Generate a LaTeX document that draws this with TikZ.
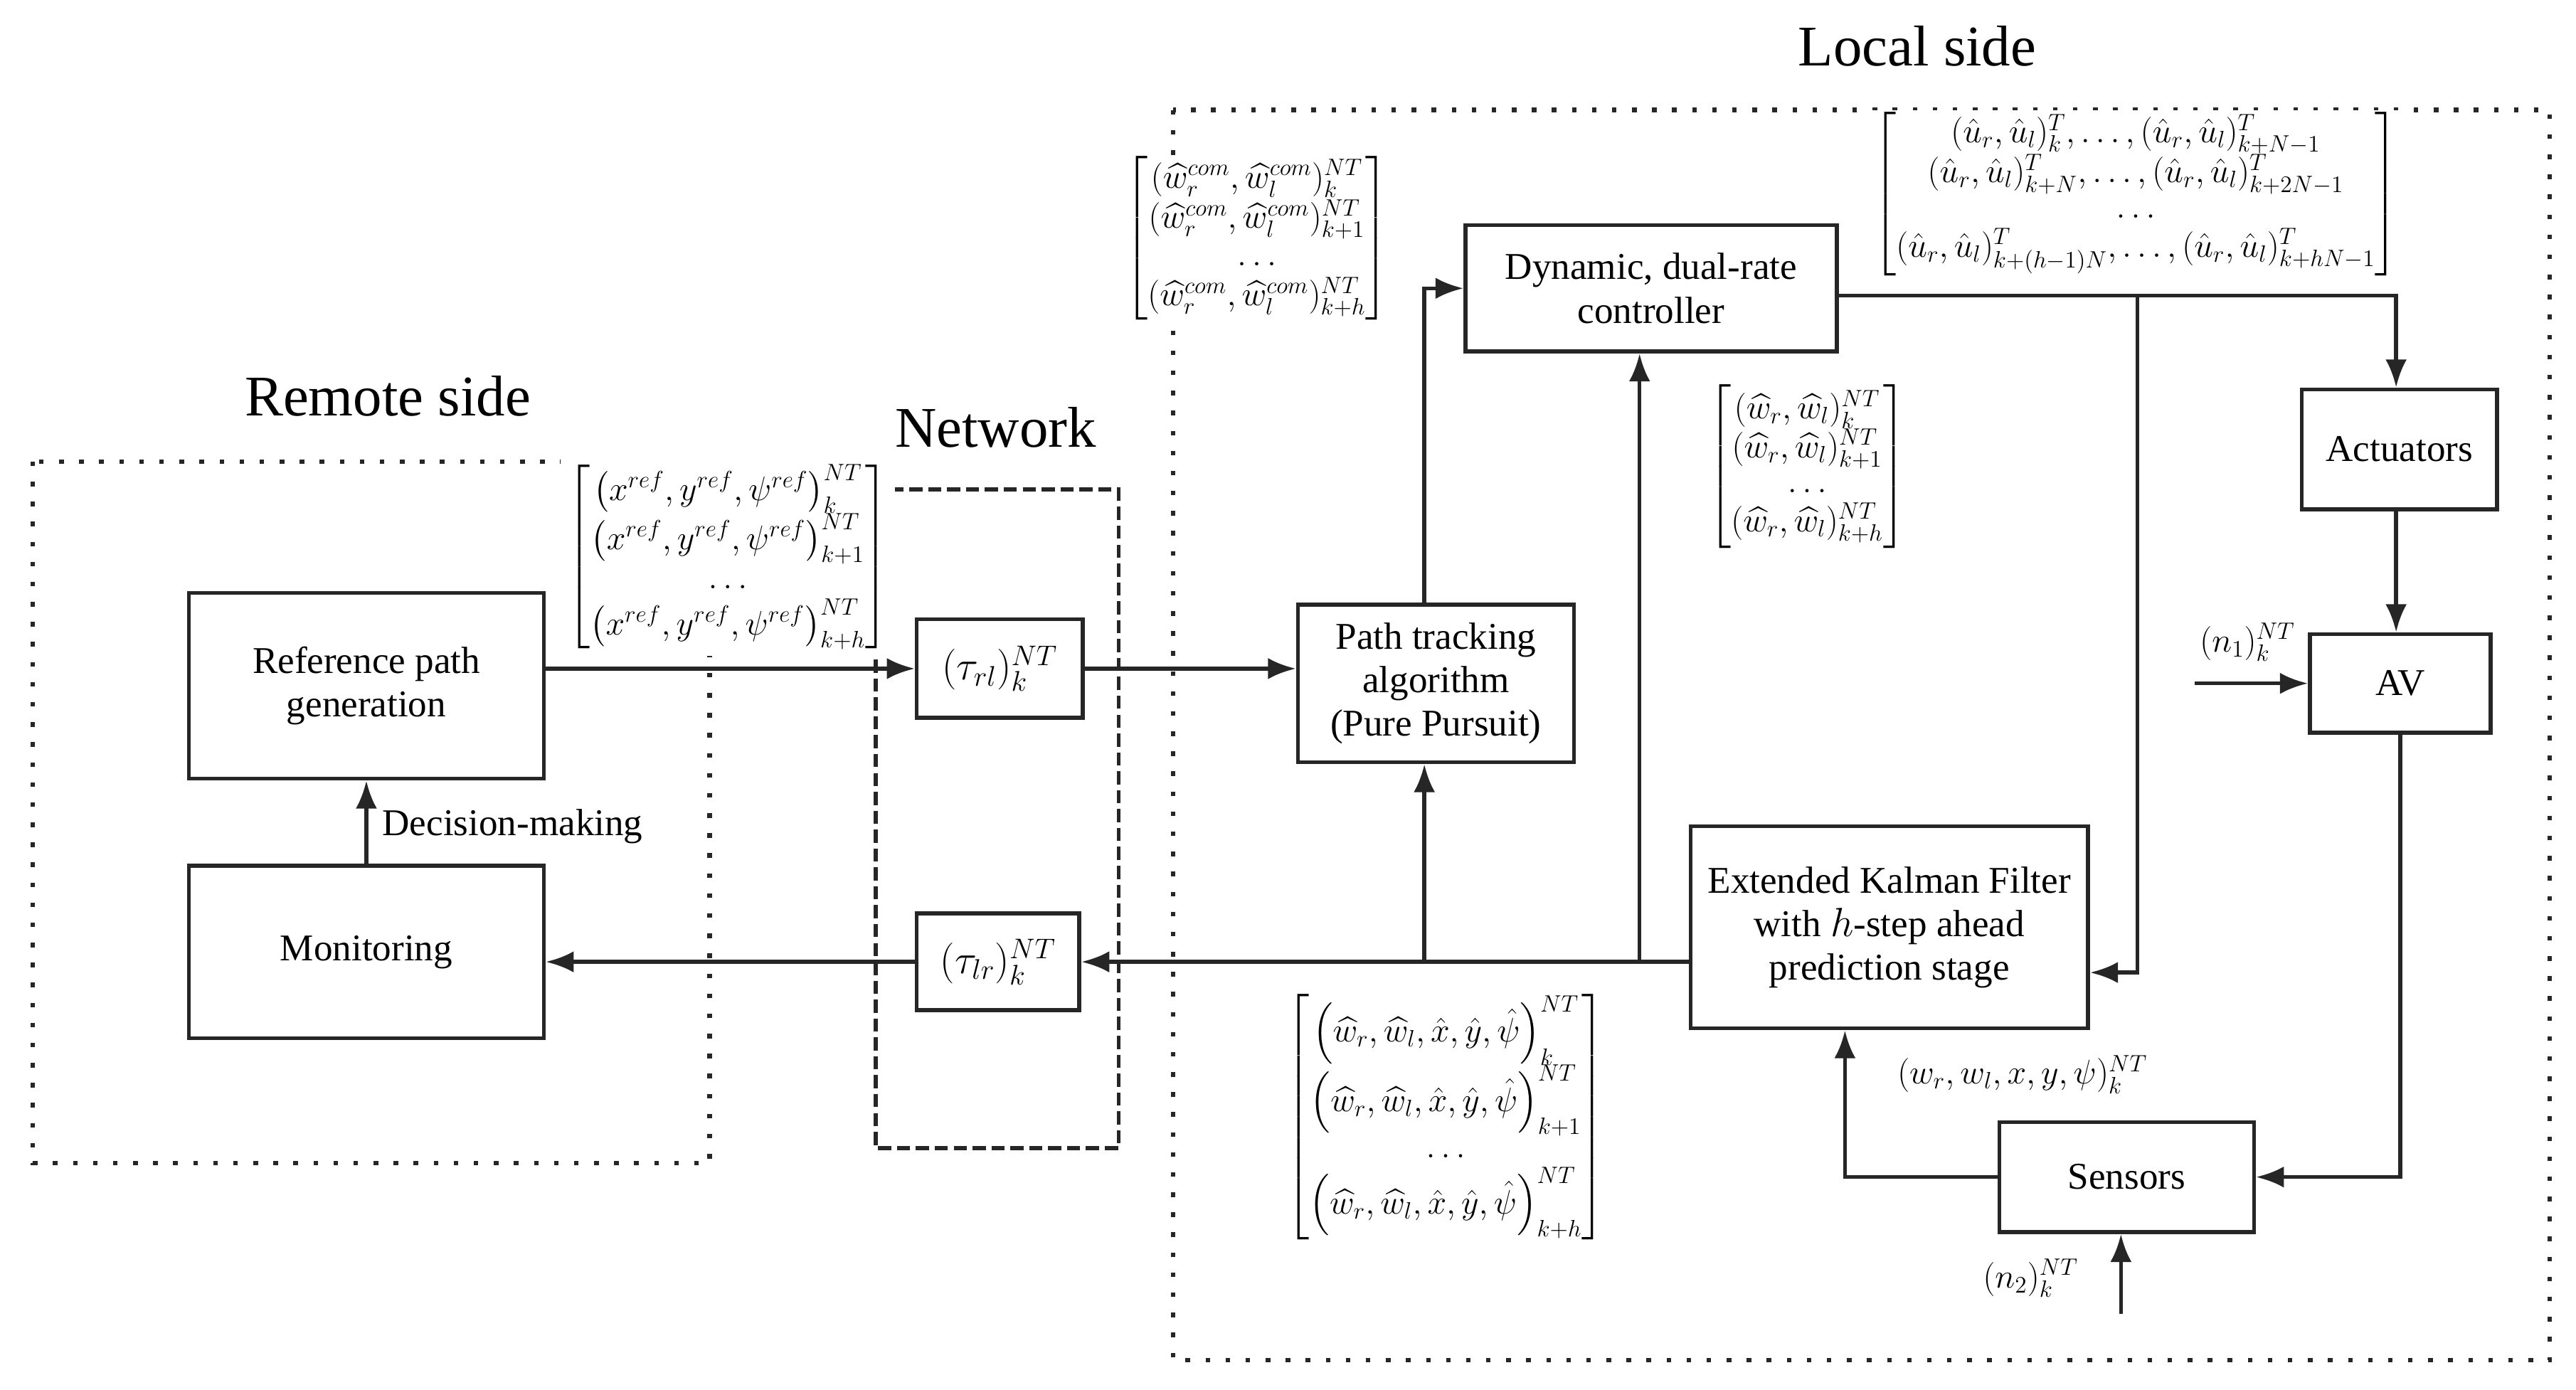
\documentclass[tikz,border=0pt]{standalone}
\usepackage{amsmath}
\usepackage{fontspec}
\setmainfont{Liberation Serif}
\usetikzlibrary{arrows.meta}
\tikzset{
  blk/.style={draw=black!85, line width=2.4pt, align=center, inner sep=0pt,
    font=\fontsize{23}{26.5}\selectfont},
  conn/.style={draw=black!85, line width=2.4pt, -{Latex[length=17pt,width=13pt]}},
  dotbox/.style={draw=black!85, line width=2.8pt, dash pattern=on 2.8pt off 9.4pt},
  dashbox/.style={draw=black!85, line width=2.4pt, dash pattern=on 8pt off 3.5pt},
  mat/.style={fill=white, inner sep=1pt},
  ttl/.style={font=\fontsize{35}{40}\selectfont},
  lbl/.style={font=\fontsize{23}{26}\selectfont, inner sep=0pt},
  mlbl/.style={font=\fontsize{21}{24}\selectfont, inner sep=0pt},
}
\begin{document}
\begin{tikzpicture}[x=1pt,y=-1pt]
\useasboundingbox (0,0) rectangle (1568,846);

% region boxes
\draw[dotbox] (20,281) rectangle (432,708);
\draw[dashbox] (533,298) rectangle (681,699);
\draw[dotbox] (714,67) rectangle (1552,828);

% titles
\node[ttl] (tlocal) at (1167,28) {Local side};
\node[ttl] (tremote) at (236,241) {Remote side};
\node[ttl] (tnet) at (606,260) {Network};

% blocks
\node[blk, minimum width=216pt, minimum height=113pt] (refgen) at (223,417.5) {Reference path\\generation};
\node[blk, minimum width=216pt, minimum height=105pt] (mon) at (223,579.5) {Monitoring};
\node[blk, minimum width=101pt, minimum height=60pt] (taurl) at (608.5,407) {$(\tau_{rl})_k^{NT}$};
\node[blk, minimum width=99pt, minimum height=59pt] (taulr) at (607.5,585.5) {$(\tau_{lr})_k^{NT}$};
\node[blk, minimum width=168pt, minimum height=96pt] (pta) at (874,416) {Path tracking\\algorithm\\(Pure Pursuit)};
\node[blk, minimum width=226pt, minimum height=77pt] (ctrl) at (1005,175.5) {Dynamic, dual-rate\\controller};
\node[blk, minimum width=119pt, minimum height=73pt] (act) at (1460.5,273.5) {Actuators};
\node[blk, minimum width=110pt, minimum height=60pt] (av) at (1461,416) {AV};
\node[blk, minimum width=242pt, minimum height=123pt] (ekf) at (1150,564.5) {Extended Kalman Filter\\with $h$-step ahead\\prediction stage};
\node[blk, minimum width=155pt, minimum height=67pt] (sens) at (1294.5,716.5) {Sensors};

% matrices
\node[mat, inner sep=4pt, font=\fontsize{20}{22}\selectfont] (mref) at (443,339) {\renewcommand{\arraystretch}{0.95}$\begin{bmatrix}
\left(x^{ref},y^{ref},\psi^{ref}\right)^{NT}_{k}\\
\left(x^{ref},y^{ref},\psi^{ref}\right)^{NT}_{k+1}\\
\ldots\\
\left(x^{ref},y^{ref},\psi^{ref}\right)^{NT}_{k+h}
\end{bmatrix}$};
\node[mat, font=\fontsize{20.5}{23}\selectfont] (mcom) at (765,145) {\renewcommand{\arraystretch}{1.0}$\begin{bmatrix}
(\widehat{w}_r^{com},\widehat{w}_l^{com})^{NT}_{k}\\
(\widehat{w}_r^{com},\widehat{w}_l^{com})^{NT}_{k+1}\\
\ldots\\
(\widehat{w}_r^{com},\widehat{w}_l^{com})^{NT}_{k+h}
\end{bmatrix}$};
\node[mat, font=\fontsize{21}{23}\selectfont] (mw) at (1100,284) {\renewcommand{\arraystretch}{0.9}$\begin{bmatrix}
(\widehat{w}_r,\widehat{w}_l)^{NT}_{k}\\
(\widehat{w}_r,\widehat{w}_l)^{NT}_{k+1}\\
\ldots\\
(\widehat{w}_r,\widehat{w}_l)^{NT}_{k+h}
\end{bmatrix}$};
\node[mat, font=\fontsize{19.5}{22}\selectfont] (mu) at (1300,118) {\renewcommand{\arraystretch}{0.95}$\begin{bmatrix}
(\hat{u}_r,\hat{u}_l)^{T}_{k},\ldots,(\hat{u}_r,\hat{u}_l)^{T}_{k+N-1}\\
(\hat{u}_r,\hat{u}_l)^{T}_{k+N},\ldots,(\hat{u}_r,\hat{u}_l)^{T}_{k+2N-1}\\
\ldots\\
(\hat{u}_r,\hat{u}_l)^{T}_{k+(h-1)N},\ldots,(\hat{u}_r,\hat{u}_l)^{T}_{k+hN-1}
\end{bmatrix}$};
\node[mat, font=\fontsize{19.5}{21}\selectfont] (mst) at (880,680) {\renewcommand{\arraystretch}{0.9}$\begin{bmatrix}
\left(\widehat{w}_r,\widehat{w}_l,\hat{x},\hat{y},\hat{\psi}\right)^{NT}_{k}\\
\left(\widehat{w}_r,\widehat{w}_l,\hat{x},\hat{y},\hat{\psi}\right)^{NT}_{k+1}\\
\ldots\\
\left(\widehat{w}_r,\widehat{w}_l,\hat{x},\hat{y},\hat{\psi}\right)^{NT}_{k+h}
\end{bmatrix}$};

% labels
\node[lbl] (ldec) at (312,503) {Decision-making};
\node[mlbl, font=\fontsize{22}{24}\selectfont] (lmeas) at (1231,654) {$(w_r,w_l,x,y,\psi)^{NT}_k$};
\node[mlbl] (ln1) at (1368,391) {$(n_1)^{NT}_k$};
\node[mlbl] (ln2) at (1236,778) {$(n_2)^{NT}_k$};

% free ends
\coordinate (n1s) at (1336,416);
\coordinate (n2s) at (1291,800);
\coordinate (brU) at (1301,180);

% connectors
\draw[conn] (refgen.east |- taurl) -- (taurl.west);
\draw[conn] (taurl.east) -- (taurl.east -| pta.west);
\draw[conn] ([xshift=-7pt]pta.north) |- (ctrl.west);
\draw[conn] (ekf.west |- taulr) -- (taulr.east);
\draw[conn] ([xshift=-7pt]pta.south |- taulr) -- ([xshift=-7pt]pta.south);
\draw[conn] ([xshift=-7pt]ctrl.south |- taulr) -- ([xshift=-7pt]ctrl.south);
\draw[conn] (taulr.west) -- (taulr.west -| mon.east);
\draw[conn] (mon.north) -- (refgen.south);
\draw[conn] (ctrl.east |- brU) -| ([xshift=-2pt]act.north);
\draw[conn] (brU) |- (ekf.east |- 0,592);
\draw[conn] ([xshift=-2pt]act.south) -- ([xshift=-2pt]act.south |- av.north);
\draw[conn] (n1s) -- (av.west);
\draw[conn] (av.south) |- (sens.east);
\draw[conn] (sens.west) -| ([xshift=-27pt]ekf.south);
\draw[conn] (n2s) -- (n2s |- sens.south);
\end{tikzpicture}
\end{document}
